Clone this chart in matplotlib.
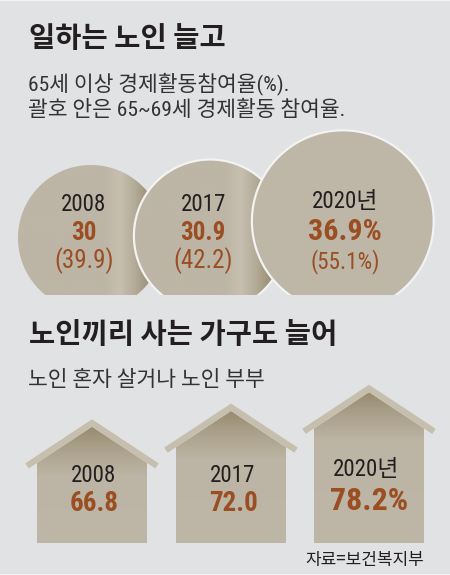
import matplotlib.pyplot as plt
import numpy as np
from matplotlib.patches import Polygon, Rectangle

years = ["2008", "2017", "2020년"]
work_rate = [30, 30.9, 36.9]
work_rate_6569 = [39.9, 42.2, 55.1]
household_rate = [66.8, 72.0, 78.2]

BG = "#e1e2e4"
DARK = "#231f20"
BROWN = "#9a4e22"
NARROW = ["Liberation Sans Narrow", "Roboto Condensed", "Noto Sans CJK KR", "DejaVu Sans"]
KR = ["Noto Sans CJK KR", "DejaVu Sans"]
PT = 0.72  # px -> pt at 100 dpi


def rgb(*c):
    return np.array(c) / 255.0


def clipped_circle(cx, cy, r, cut):
    t = np.linspace(0, 2 * np.pi, 400)
    return np.column_stack([cx + r * np.cos(t), np.minimum(cy + r * np.sin(t), cut)])


def pct(v, last, fmt):
    return fmt.format(v) + ("%" if last else "")


fig = plt.figure(figsize=(4.5, 5.75), dpi=100)
fig.patch.set_facecolor("#f4f4f4")
ax = fig.add_axes([0, 0, 1, 1])
ax.axis("off")
ax.add_patch(Rectangle((0, 1), 450, 573, color=BG, lw=0, zorder=0))

# headings
ax.text(29, 47.5, "일하는 노인 늘고", family=KR, weight="bold", size=28.5 * PT, color=DARK)
ax.text(28, 90, "65세 이상 경제활동참여율(%).", family=NARROW, size=21.5 * PT, color="#333333")
ax.text(28, 116, "괄호 안은 65~69세 경제활동 참여율.", family=NARROW, size=21.5 * PT, color="#333333")
ax.text(29, 343.5, "노인끼리 사는 가구도 늘어", family=KR, weight="bold", size=28.5 * PT, color=DARK)
ax.text(28, 386, "노인 혼자 살거나 노인 부부", family=NARROW, size=21.5 * PT, color="#333333")
ax.text(424, 565, "자료=보건복지부", family=KR, size=17 * PT, color=DARK, ha="right")

# circles: radius proportional to the rate, bottoms on one line, cut flat
cut_y = 295
base_y = 311
r_scale = 73 / work_rate[0]
left_edges = [18, 135, 253]
stops = [-1.0, 0.2, 0.4, 0.6, 0.82, 1.0]
shade = [rgb(189, 181, 166), rgb(189, 181, 166), rgb(199, 191, 176),
         rgb(180, 171, 152), rgb(152, 140, 115), rgb(150, 138, 113)]
flat = rgb(190, 183, 168)

for i, v in enumerate(work_rate):
    r = v * r_scale
    cx, cy = left_edges[i] + r, base_y - r
    last = i == len(work_rate) - 1
    if i > 0:
        ax.add_patch(Polygon(clipped_circle(cx, cy, r + 2.2, cut_y), closed=True,
                             fc="#f3f3f3", ec="none", zorder=i * 2 + 1))
    shape = Polygon(clipped_circle(cx, cy, r, cut_y), closed=True, fc="none", ec="none",
                    zorder=i * 2 + 2)
    ax.add_patch(shape)
    xs = np.linspace(-1, 1, 300)
    if last:
        row = np.tile(flat, (len(xs), 1))
    else:
        row = np.column_stack([np.interp(xs, stops, [c[k] for c in shade]) for k in range(3)])
    img = ax.imshow(row[None, :, :], extent=(cx - r, cx + r, cut_y, cy - r),
                    origin="upper", interpolation="bilinear", zorder=i * 2 + 2, aspect="auto")
    img.set_clip_path(shape)

    tx = cx - 7 if not last else cx + 2
    ax.text(tx, 211 if not last else 208, years[i], family=NARROW, size=23 * PT,
            color=DARK, ha="center", zorder=10)
    ax.text(tx, 240, pct(v, last, "{:g}"), family=NARROW, weight="bold",
            size=(30 if last else 25) * PT, color=BROWN, ha="center", zorder=10)
    ax.text(tx, 268, "(" + pct(work_rate_6569[i], last, "{:g}") + ")", family=NARROW,
            size=(23 if last else 25) * PT, color=BROWN, ha="center", zorder=10)

# houses: wall height grows with the household share
house_left = [37, 176, 314]
half_w = 55
bottom = 543
slope = 0.66
eave_per_unit = 3.03
roof_c = "#c7bfae"
for i, v in enumerate(household_rate):
    last = i == len(household_rate) - 1
    cx = house_left[i] + half_w
    eave = 463 - eave_per_unit * (v - household_rate[0])
    peak = eave - slope * half_w
    body = Polygon([(cx - half_w, bottom), (cx - half_w, eave), (cx, peak),
                    (cx + half_w, eave), (cx + half_w, bottom)],
                   closed=True, fc="none", ec="none", zorder=3)
    ax.add_patch(body)
    ys = np.linspace(peak, bottom, 200)
    ystops = [peak, peak + 18, eave + 12, bottom]
    cols = [rgb(150, 138, 112), rgb(168, 157, 134), rgb(188, 180, 164), rgb(190, 182, 167)]
    col = np.column_stack([np.interp(ys, ystops, [c[k] for c in cols]) for k in range(3)])
    img = ax.imshow(col[:, None, :], extent=(cx - half_w, cx + half_w, bottom, peak),
                    origin="upper", interpolation="bilinear", zorder=3, aspect="auto")
    img.set_clip_path(body)

    dx = np.array([-65, 0, 65])
    ax.plot(cx + dx, eave - slope * (half_w - np.abs(dx)) - 3.7, color=roof_c,
            lw=6.2 * PT, solid_joinstyle="miter", solid_capstyle="butt", zorder=4)

    tx = cx + 2 if not last else cx - 3
    ax.text(tx, 476 if last else 482, years[i], family=NARROW, size=23 * PT,
            color=DARK, ha="center", zorder=10)
    ax.text(tx + (3 if last else 0), 510 if last else 511, pct(v, last, "{:.1f}"),
            family=NARROW, weight="semibold", size=(32 if last else 27) * PT,
            color=BROWN, ha="center", zorder=10)

ax.set_xlim(0, 450)
ax.set_ylim(575, 0)
fig.savefig("out.png", dpi=100, facecolor=fig.get_facecolor())
